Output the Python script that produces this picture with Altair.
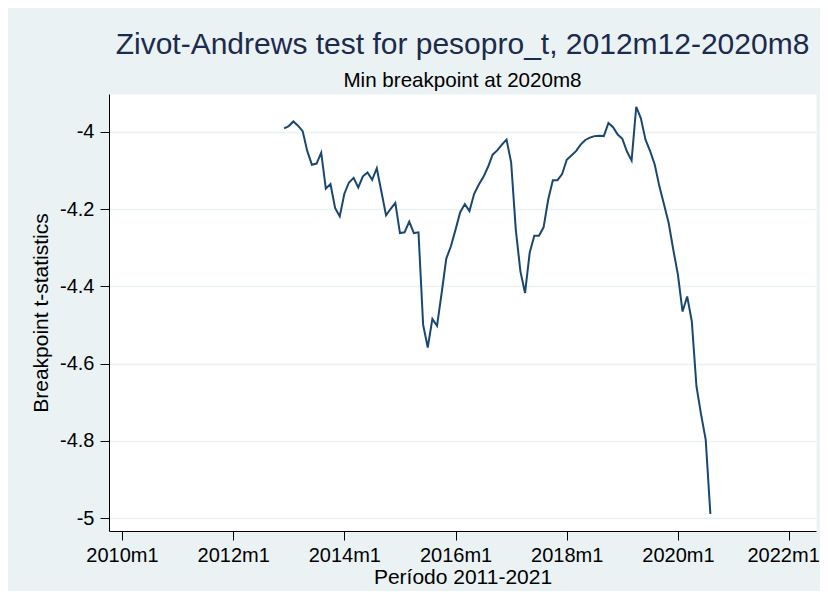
import altair as alt
import pandas as pd

# Zivot-Andrews breakpoint t-statistics, monthly, 2012m12 .. 2020m8
first_year = 2012
first_month = 12
t_stats = [
    -3.991, -3.985, -3.973, -3.984, -3.998, -4.050, -4.085, -4.082, -4.054, -4.147,
    -4.135, -4.197, -4.219, -4.160, -4.131, -4.119, -4.144, -4.115, -4.105, -4.124,
    -4.094, -4.155, -4.216, -4.199, -4.184, -4.262, -4.260, -4.232, -4.262, -4.260,
    -4.499, -4.558, -4.484, -4.502, -4.417, -4.328, -4.296, -4.253, -4.208, -4.187,
    -4.205, -4.161, -4.137, -4.117, -4.091, -4.059, -4.048, -4.033, -4.020, -4.079,
    -4.253, -4.361, -4.417, -4.313, -4.269, -4.269, -4.247, -4.175, -4.125, -4.125,
    -4.109, -4.072, -4.061, -4.050, -4.033, -4.021, -4.015, -4.011, -4.010, -4.011,
    -3.977, -3.988, -4.007, -4.018, -4.051, -4.074, -3.935, -3.965, -4.020, -4.050,
    -4.085, -4.141, -4.188, -4.236, -4.305, -4.370, -4.465, -4.426, -4.491, -4.659,
    -4.732, -4.797, -4.989,
]

x_tick_years = [2010, 2012, 2014, 2016, 2018, 2020, 2022]
y_ticks = [-5, -4.8, -4.6, -4.4, -4.2, -4]

title_text = "Zivot-Andrews test for pesopro_t, 2012m12-2020m8"
subtitle_text = "Min breakpoint at 2020m8"
x_title = "Período 2011-2021"
y_title = "Breakpoint t-statistics"

# month index relative to 2010m1
start_idx = (first_year - 2010) * 12 + (first_month - 1)
months = [start_idx + k for k in range(len(t_stats))]
periods = [f"{2010 + m // 12}m{m % 12 + 1}" for m in months]
df = pd.DataFrame({"month": months, "period": periods, "t": t_stats})
x_tick_vals = [(y - 2010) * 12 for y in x_tick_years]
last_tick = x_tick_vals[-1]

FONT = "Liberation Sans"
BG = "#eaf2f3"

chart = (
    alt.Chart(df)
    .mark_line(color="#1a476f", strokeWidth=2)
    .encode(
        x=alt.X(
            "month:Q",
            scale=alt.Scale(domain=[-2.8, 149.8], nice=False, zero=False),
            axis=alt.Axis(
                title=x_title,
                values=x_tick_vals,
                labelExpr="toString(2010 + datum.value / 12) + 'm1'",
                grid=False,
                tickSize=9,
                labelPadding=5,
                titlePadding=1,
                labelFlush=False,
                labelOverlap=False,
                labelOffset={
                    "condition": {"test": f"datum.value == {last_tick}", "value": -6},
                    "value": 0,
                },
            ),
        ),
        y=alt.Y(
            "t:Q",
            scale=alt.Scale(domain=[-5.033, -3.902], nice=False, zero=False),
            axis=alt.Axis(
                title=y_title,
                values=y_ticks,
                labelExpr="toString(datum.value)",
                grid=True,
                gridColor=BG,
                gridWidth=1.6,
                tickSize=9,
                labelPadding=6,
                titlePadding=8,
                labelAngle=0,
                labelOverlap=False,
            ),
        ),
    )
    .properties(
        width=707,
        height=437,
        background=BG,
        padding={"left": 101, "top": 86, "right": 4, "bottom": 60},
        autosize=alt.AutoSizeParams(type="none"),
        title=alt.TitleParams(
            text=title_text,
            subtitle=subtitle_text,
            anchor="middle",
            font=FONT,
            fontSize=30,
            fontWeight="normal",
            color="#1c2a4e",
            subtitleFont=FONT,
            subtitleFontSize=20.6,
            subtitleColor="#000000",
            subtitlePadding=11,
            offset=2,
        ),
    )
    .configure_view(fill="white", stroke="transparent")
    .configure_axis(
        labelFont=FONT,
        labelFontSize=20,
        labelColor="#000000",
        titleFont=FONT,
        titleFontSize=21,
        titleFontWeight="normal",
        titleColor="#000000",
        domainColor="#000000",
        domainWidth=1,
        tickColor="#000000",
        tickWidth=1,
    )
)

chart.save("out.html", embed_options={"renderer": "svg", "actions": False})
